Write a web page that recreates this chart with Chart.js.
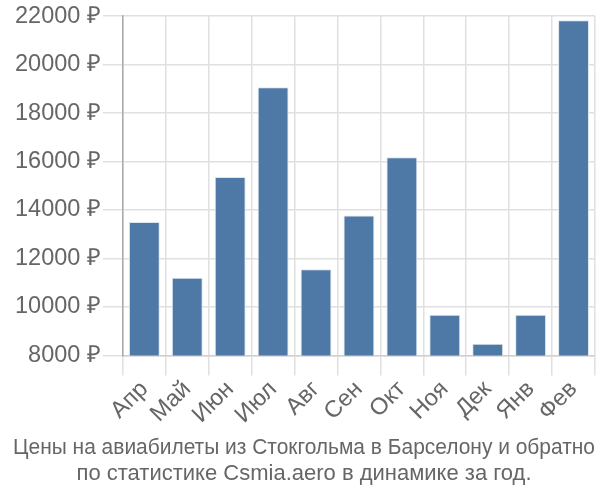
<!DOCTYPE html>
<html>
<head>
<meta charset="utf-8">
<script src="https://cdn.jsdelivr.net/npm/chart.js@4/dist/chart.umd.min.js"></script>
<style>
html,body{margin:0;padding:0;background:#fff;}
#wrap{width:600px;height:500px;}
</style>
</head>
<body>
<div id="wrap"><canvas id="c" width="600" height="500"></canvas></div>
<script>
const categories = ["Апр","Май","Июн","Июл","Авг","Сен","Окт","Ноя","Дек","Янв","Фев"];
const prices = [13500, 11200, 15360, 19060, 11550, 13770, 16180, 9680, 8480, 9680, 21830];
const yTicks = [8000, 10000, 12000, 14000, 16000, 18000, 20000, 22000];
const titleLines = ["Цены на авиабилеты из Стокгольма в Барселону и обратно", "по статистике Csmia.aero в динамике за год."];

const TICKFONT = "'Liberation Sans', Arial, sans-serif";
const TITLEFONT = "'Liberation Sans', Arial, sans-serif";
new Chart(document.getElementById('c'), {
  type: 'bar',
  data: {
    labels: categories,
    datasets: [{
      data: prices,
      backgroundColor: '#4e79a7',
      borderColor: '#dce6f0',
      borderWidth: 1
    }]
  },
  options: {
    responsive: false,
    animation: false,
    layout: { padding: { left: 13, right: 5, top: 2, bottom: 13 } },
    plugins: {
      legend: { display: false },
      tooltip: { enabled: false },
      title: {
        display: true,
        position: 'bottom',
        text: titleLines,
        color: '#666',
        font: { family: TITLEFONT, size: 22, weight: 'normal', lineHeight: 1.18 },
        padding: { top: 6, bottom: 0 }
      }
    },
    scales: {
      x: {
        grid: { color: '#e0e0e0', lineWidth: 1.5, tickLength: 20, offset: true },
        border: { color: '#d0d0d0', width: 1.5 },
        ticks: { color: '#666', font: { family: TICKFONT, size: 23.5 }, minRotation: 45, maxRotation: 45, padding: 0, autoSkip: false }
      },
      y: {
        min: yTicks[0],
        max: yTicks[yTicks.length - 1],
        afterBuildTicks: (axis) => { axis.ticks = yTicks.map(v => ({ value: v })); },
        grid: { color: '#e0e0e0', lineWidth: 1.5, tickLength: 20 },
        border: { color: '#aaa', width: 1.5 },
        ticks: { color: '#666', font: { family: TICKFONT, size: 23.5 }, padding: 2, callback: (v) => v + ' ₽' }
      }
    }
  }
});
</script>
</body>
</html>
